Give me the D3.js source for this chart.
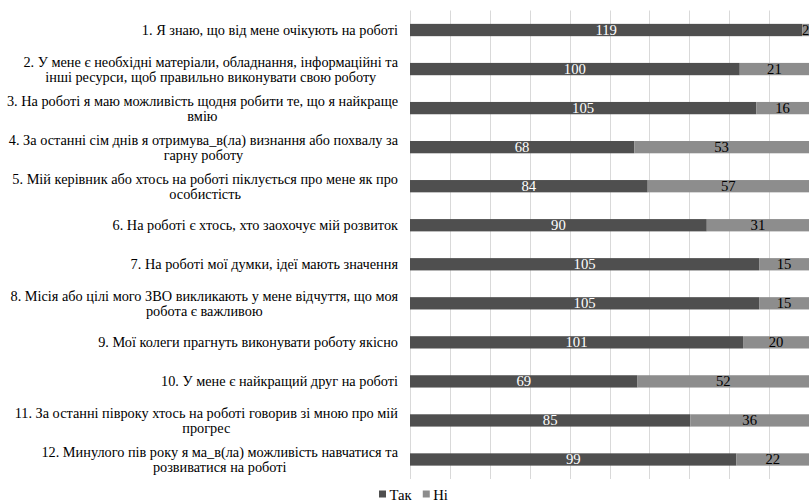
<!DOCTYPE html>
<html><head><meta charset="utf-8">
<script src="https://cdn.jsdelivr.net/npm/d3@7"></script>
<style>body{margin:0;background:#fff} svg{display:block}</style>
</head><body><svg id="c" width="809" height="504"></svg>
<script>
const categories = [
  "1. Я знаю, що від мене очікують на роботі",
  "2. У мене є необхідні матеріали, обладнання, інформаційні та\nінші ресурси, щоб правильно виконувати свою роботу",
  "3. На роботі я маю можливість щодня робити те, що я найкраще\nвмію",
  "4. За останні сім днів я отримува_в(ла) визнання або похвалу за\nгарну роботу",
  "5. Мій керівник або хтось на роботі піклується про мене як про\nособистість",
  "6. На роботі є хтось, хто заохочує мій розвиток",
  "7. На роботі мої думки, ідеї мають значення",
  "8. Місія або цілі мого ЗВО викликають у мене відчуття, що моя\nробота є важливою",
  "9. Мої колеги прагнуть виконувати роботу якісно",
  "10. У мене є найкращий друг на роботі",
  "11. За останні півроку хтось на роботі говорив зі мною про мій\nпрогрес",
  "12. Минулого пів року я ма_в(ла) можливість навчатися та\nрозвиватися на роботі"
];
const seriesNames = ["Так", "Ні"];
const yesValues = [119, 100, 105, 68, 84, 90, 105, 105, 101, 69, 85, 99];
const noValues  = [2, 21, 16, 53, 57, 31, 15, 15, 20, 52, 36, 22];
const gridTicks = [0, 0.1, 0.2, 0.3, 0.4, 0.5, 0.6, 0.7, 0.8, 0.9, 1];

const colors = ["#4f4f4f", "#8d8d8d"];
const labelColors = ["#ffffff", "#000000"];
const font = "Liberation Serif";

const svg = d3.select("#c");
const x = d3.scaleLinear().domain([0, 1]).range([410, 809]);
const y = d3.scaleBand().domain(d3.range(categories.length)).range([10.5, 479]).paddingInner(0.685).paddingOuter(0.3425);

// gridlines
svg.append("g").selectAll("line").data(gridTicks).join("line")
  .attr("x1", d => Math.round(x(d)) + 0.5).attr("x2", d => Math.round(x(d)) + 0.5)
  .attr("y1", 10.5).attr("y2", 479)
  .attr("stroke", "#d9d9d9").attr("stroke-width", 1);

const rows = categories.map((c, i) => {
  const total = yesValues[i] + noValues[i];
  return [
    {i, s: 0, v: yesValues[i], x0: 0, x1: yesValues[i] / total},
    {i, s: 1, v: noValues[i], x0: yesValues[i] / total, x1: 1}
  ];
}).flat();

svg.append("g").selectAll("rect").data(rows).join("rect")
  .attr("x", d => x(d.x0)).attr("width", d => x(d.x1) - x(d.x0))
  .attr("y", d => y(d.i)).attr("height", y.bandwidth())
  .attr("fill", d => colors[d.s]);

svg.append("g").selectAll("text").data(rows).join("text")
  .attr("x", d => (x(d.x0) + x(d.x1)) / 2)
  .attr("y", d => y(d.i) + y.bandwidth() / 2)
  .attr("text-anchor", "middle").attr("dominant-baseline", "central")
  .attr("font-family", font).attr("font-size", 14.7)
  .attr("fill", d => labelColors[d.s])
  .text(d => d.v);

// category labels
const labelRight = 398;
const lineH = 15;
const lg = svg.append("g");
categories.forEach((c, i) => {
  const lines = c.split("\n");
  const t = lg.append("text").attr("font-family", font).attr("font-size", 14.3).attr("fill", "#000");
  const spans = lines.map(ln => t.append("tspan").text(ln));
  const w = d3.max(spans.map(s => s.node().getComputedTextLength()));
  const cx = labelRight - w / 2;
  const cy = y(i) + y.bandwidth() / 2;
  spans.forEach((s, k) => {
    s.attr("x", cx).attr("text-anchor", "middle")
     .attr("y", cy + (k - (lines.length - 1) / 2) * lineH)
     .attr("dominant-baseline", "central");
  });
});

// legend
const leg = svg.append("g");
let lx = 379;
seriesNames.forEach((n, k) => {
  leg.append("rect").attr("x", lx).attr("y", 490.5).attr("width", 7).attr("height", 7).attr("fill", colors[k]);
  const t = leg.append("text").attr("x", lx + 10.5).attr("y", 494.5).attr("dominant-baseline", "central")
    .attr("font-family", font).attr("font-size", 14.7).attr("fill", "#000").text(n);
  lx += 10.5 + t.node().getComputedTextLength() + 11;
});
</script></body></html>
